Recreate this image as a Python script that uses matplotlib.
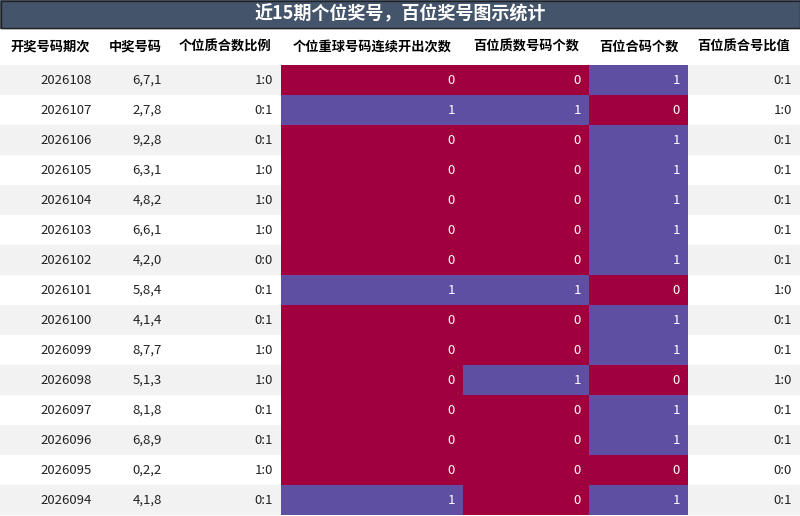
import matplotlib
matplotlib.use("Agg")
import matplotlib.pyplot as plt
from matplotlib.patches import Rectangle

plt.rcParams['font.family'] = ['Noto Sans CJK SC', 'DejaVu Sans']

title = "近15期个位奖号，百位奖号图示统计"
headers = ["开奖号码期次", "中奖号码", "个位质合数比例", "个位重球号码连续开出次数", "百位质数号码个数", "百位合码个数", "百位质合号比值"]
periods = ["2026108","2026107","2026106","2026105","2026104","2026103","2026102","2026101","2026100","2026099","2026098","2026097","2026096","2026095","2026094"]
numbers = ["6,7,1","2,7,8","9,2,8","6,3,1","4,8,2","6,6,1","4,2,0","5,8,4","4,1,4","8,7,7","5,1,3","8,1,8","6,8,9","0,2,2","4,1,8"]
ratio_units = ["1:0","0:1","0:1","1:0","1:0","1:0","0:0","0:1","0:1","1:0","1:0","0:1","0:1","1:0","0:1"]
repeat_cnt = [0,1,0,0,0,0,0,1,0,0,0,0,0,0,1]
prime_hund = [0,1,0,0,0,0,0,1,0,0,1,0,0,0,0]
comp_hund = [1,0,1,1,1,1,1,0,1,1,0,1,1,0,1]
ratio_hund = ["0:1","1:0","0:1","0:1","0:1","0:1","0:1","1:0","0:1","0:1","1:0","0:1","0:1","0:0","0:1"]

W, H = 800, 516
edges = [0, 100, 170, 281, 463, 589, 688, 800]
title_h, head_b, row_h = 28, 65, 30
RED, PURPLE = "#A1003F", "#5E4FA2"

fig = plt.figure(figsize=(8, 5.16), dpi=100)
ax = fig.add_axes([0, 0, 1, 1])
ax.set_xlim(0, W); ax.set_ylim(H, 0); ax.axis('off')

ax.add_patch(Rectangle((0, 0), W, title_h, color="#44546A"))
ax.add_patch(Rectangle((0.5, 0.5), W-1, title_h-1, fill=False, ec="#222222", lw=1))
ax.text(W/2, title_h/2, title, color="white", fontsize=13, fontweight="bold", ha="center", va="center")
for i, h in enumerate(headers):
    ax.text((edges[i]+edges[i+1])/2, (title_h+head_b)/2, h, fontsize=9.5, fontweight="bold", ha="center", va="center")

cols = [periods, numbers, ratio_units, repeat_cnt, prime_hund, comp_hund, ratio_hund]
for r in range(len(periods)):
    y = head_b + r*row_h
    ax.add_patch(Rectangle((0, y), W, row_h, color="#F2F2F2" if r % 2 == 0 else "white", lw=0))
    for c, col in enumerate(cols):
        v = col[r]
        color = "#222222"
        if c in (3, 4, 5):
            ax.add_patch(Rectangle((edges[c], y), edges[c+1]-edges[c], row_h, color=PURPLE if v == 1 else RED, lw=0))
            color = "white"
        ax.text(edges[c+1]-8, y+row_h/2, str(v), fontsize=9.5, ha="right", va="center", color=color)

fig.savefig("out.png", dpi=100)
